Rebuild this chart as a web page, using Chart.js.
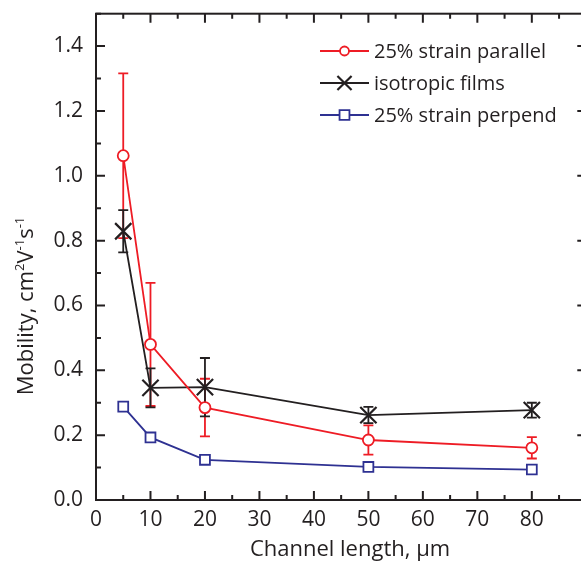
<!DOCTYPE html>
<html>
<head>
<meta charset="utf-8">
<script src="https://cdn.jsdelivr.net/npm/chart.js@4.4.0/dist/chart.umd.min.js"></script>
<style>
  html, body { margin: 0; padding: 0; overflow: hidden; background: #fff; }
  canvas { display: block; }
</style>
</head>
<body>
<canvas id="mobility-chart" width="600" height="568"></canvas>
<script>
// Mobility vs channel length
const channelLength = [5, 10, 20, 50, 80];
const parallelMobility = [1.062, 0.48, 0.285, 0.185, 0.161];
const parallelErr = [0.254, 0.19, 0.089, 0.045, 0.033];
const isoMobility = [0.829, 0.346, 0.348, 0.262, 0.277];
const isoErr = [0.065, 0.06, 0.09, 0.025, 0.023];
const perpMobility = [0.288, 0.193, 0.124, 0.102, 0.094];

const seriesNames = ['25% strain parallel', 'isotropic films', '25% strain perpend'];
const xTicks = [0, 10, 20, 30, 40, 50, 60, 70, 80];
const yTicks = [0, 0.2, 0.4, 0.6, 0.8, 1.0, 1.2, 1.4];

const RED = '#ee1c25', BLACK = '#231f20', BLUE = '#2e3192', INK = '#231f20';
const FONT = "'Open Sans', sans-serif";

Chart.defaults.font.family = FONT;
Chart.defaults.color = INK;

function toPoints(ys){ return channelLength.map((x,i)=>({x, y: ys[i]})); }

// error bars behind the markers
const errorBars = {
    id: 'errorBars',
    beforeDatasetsDraw(chart){
        const ctx = chart.ctx, xs = chart.scales.x, ys = chart.scales.y;
        chart.data.datasets.forEach(ds=>{
            if(!ds.errors) return;
            ctx.save();
            ctx.strokeStyle = ds.borderColor;
            ctx.lineWidth = 1.8;
            ds.data.forEach((p,i)=>{
                const e = ds.errors[i];
                const px = xs.getPixelForValue(p.x);
                const top = ys.getPixelForValue(p.y + e), bot = ys.getPixelForValue(p.y - e);
                ctx.beginPath();
                ctx.moveTo(px, top); ctx.lineTo(px, bot);
                ctx.moveTo(px-5, top); ctx.lineTo(px+5, top);
                ctx.moveTo(px-5, bot); ctx.lineTo(px+5, bot);
                ctx.stroke();
            });
            ctx.restore();
        });
    }
};

// box frame with inward ticks, axis titles, legend
const frame = {
    id: 'frame',
    afterDraw(chart){
        const ctx = chart.ctx, a = chart.chartArea;
        const xs = chart.scales.x, ys = chart.scales.y;
        ctx.save();
        ctx.strokeStyle = INK;
        ctx.lineWidth = 2;
        ctx.strokeRect(a.left, a.top, a.right-a.left, a.bottom-a.top);
        ctx.beginPath();
        for(let v=0; v<=90; v+=5){
            const px = xs.getPixelForValue(v), len = v%10===0 ? 9 : 5;
            ctx.moveTo(px, a.bottom); ctx.lineTo(px, a.bottom-len);
            ctx.moveTo(px, a.top); ctx.lineTo(px, a.top+len);
        }
        for(let k=0; k<=15; k++){
            const py = ys.getPixelForValue(k/10), len = k%2===0 ? 9 : 5;
            ctx.moveTo(a.left, py); ctx.lineTo(a.left+len, py);
            ctx.moveTo(a.right, py); ctx.lineTo(a.right-len, py);
        }
        ctx.stroke();

        // x title
        ctx.fillStyle = INK;
        ctx.font = `22px ${FONT}`;
        ctx.textAlign = 'center';
        ctx.textBaseline = 'alphabetic';
        ctx.fillText('Channel length, \u03bcm', 350, 556);

        // y title with superscripts
        const parts = [['Mobility, cm',0],['2',1],['V',0],['-1',1],['s',0],['-1',1]];
        const big = `22px ${FONT}`, small = `13px ${FONT}`;
        let w = 0;
        parts.forEach(([t,s])=>{ ctx.font = s?small:big; w += ctx.measureText(t).width; });
        ctx.translate(33, 306);
        ctx.rotate(-Math.PI/2);
        ctx.textAlign = 'left';
        let cx = -w/2;
        parts.forEach(([t,s])=>{
            ctx.font = s?small:big;
            ctx.fillText(t, cx, s ? -9 : 0);
            cx += ctx.measureText(t).width;
        });
        ctx.restore();

        // legend
        ctx.save();
        chart.data.datasets.forEach((ds,i)=>{
            const y = 51 + i*32;
            ctx.strokeStyle = ds.borderColor;
            ctx.lineWidth = 1.8;
            ctx.beginPath(); ctx.moveTo(320, y); ctx.lineTo(369, y); ctx.stroke();
            ctx.fillStyle = '#fff';
            ctx.strokeStyle = ds.pointBorderColor;
            ctx.lineWidth = ds.pointBorderWidth;
            Chart.helpers.drawPoint(ctx, {pointStyle: ds.pointStyle, radius: ds.legendRadius, rotation: 0, borderWidth: ds.pointBorderWidth}, 344.5, y);
            ctx.fillStyle = INK;
            ctx.font = `20px ${FONT}`;
            ctx.textAlign = 'left';
            ctx.textBaseline = 'middle';
            ctx.fillText(ds.label, 374, y+1);
        });
        ctx.restore();
    }
};

new Chart(document.getElementById('mobility-chart'), {
    type: 'line',
    data: {
        datasets: [
            { label: seriesNames[0], data: toPoints(parallelMobility), errors: parallelErr,
              borderColor: RED, borderWidth: 1.8, pointStyle: 'circle', pointRadius: 5.5, legendRadius: 4.5,
              pointBorderColor: RED, pointBackgroundColor: '#fff', pointBorderWidth: 1.8 },
            { label: seriesNames[1], data: toPoints(isoMobility), errors: isoErr,
              borderColor: BLACK, borderWidth: 1.8, pointStyle: 'crossRot', pointRadius: 11.5, legendRadius: 10,
              pointBorderColor: BLACK, pointBackgroundColor: BLACK, pointBorderWidth: 2.2 },
            { label: seriesNames[2], data: toPoints(perpMobility),
              borderColor: BLUE, borderWidth: 1.8, pointStyle: 'rect', pointRadius: 7, legendRadius: 7,
              pointBorderColor: BLUE, pointBackgroundColor: '#fff', pointBorderWidth: 1.8 }
        ]
    },
    options: {
        responsive: false,
        animation: false,
        layout: { padding: { top: 8, right: 11, left: 0, bottom: 0 } },
        plugins: { legend: { display: false }, tooltip: { enabled: false } },
        elements: { line: { tension: 0 } },
        scales: {
            x: {
                type: 'linear', min: 0, max: 90,
                grid: { display: false, drawTicks: false },
                border: { display: false },
                afterBuildTicks: s => { s.ticks = xTicks.map(v=>({value: v})); },
                afterFit: s => { s.height = 68; s.paddingLeft = 0; s.paddingRight = 0; },
                ticks: { font: { size: 21 }, color: INK, padding: 7, maxRotation: 0, autoSkip: false,
                         callback: v => String(v) }
            },
            y: {
                type: 'linear', min: 0, max: 1.5,
                grid: { display: false, drawTicks: false },
                border: { display: false },
                afterBuildTicks: s => { s.ticks = yTicks.map(v=>({value: v})); },
                afterFit: s => { s.width = 96; s.paddingTop = 0; s.paddingBottom = 0; },
                ticks: { font: { size: 21 }, color: INK, padding: 13, autoSkip: false,
                         callback: v => v.toFixed(1) }
            }
        }
    },
    plugins: [errorBars, frame]
});
</script>
</body>
</html>
